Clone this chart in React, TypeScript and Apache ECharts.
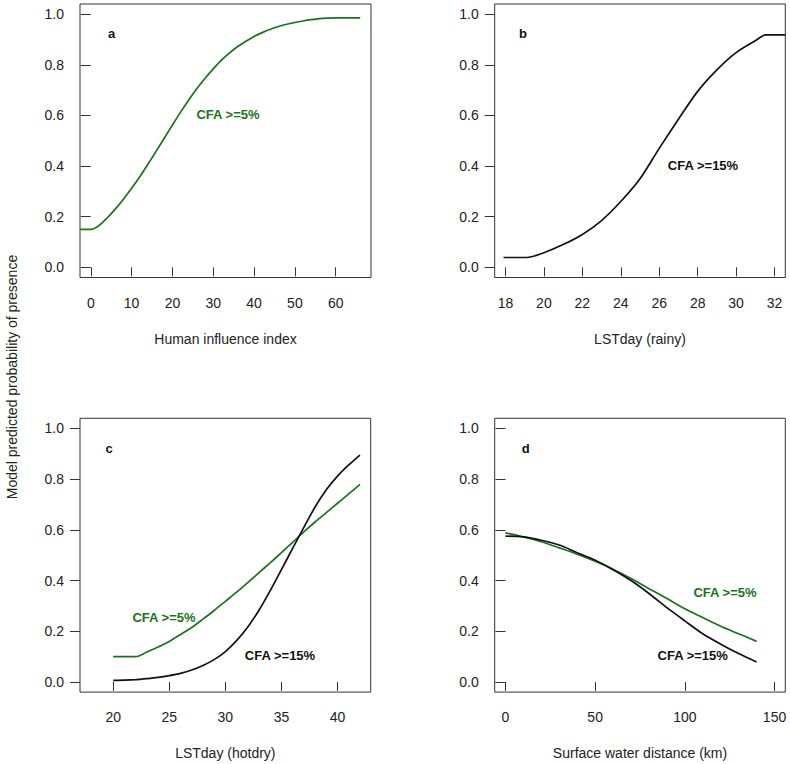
import React, { useEffect, useRef } from "react";
import * as echarts from "echarts";

// ---- data ----
const aX = [-2.6, 0, 2, 4, 6, 8, 10, 12, 14, 16, 18, 20, 22, 24, 26, 28, 30, 32, 34, 36, 38, 40, 42, 44, 46, 48, 50, 52, 54, 56, 58, 60, 66];
const aGreen = [0.15, 0.15, 0.165, 0.195, 0.23, 0.269, 0.312, 0.358, 0.407, 0.458, 0.51, 0.562, 0.613, 0.661, 0.706, 0.747, 0.784, 0.818, 0.847, 0.872, 0.893, 0.912, 0.927, 0.94, 0.951, 0.96, 0.967, 0.973, 0.978, 0.982, 0.984, 0.985, 0.985];

const bX = [17.9, 19.1, 20, 21, 22, 23, 24, 25, 26, 27, 28, 29, 30, 31, 31.55, 32.56];
const bBlack = [0.039, 0.039, 0.058, 0.09, 0.13, 0.185, 0.26, 0.35, 0.47, 0.585, 0.695, 0.78, 0.848, 0.895, 0.918, 0.918];

const cGreenX = [20, 22, 23, 24, 25, 26, 27, 28, 29, 30, 31, 32, 33, 34, 35, 36, 37, 38, 39, 40, 41, 42];
const cGreen = [0.1, 0.1, 0.118, 0.138, 0.16, 0.187, 0.215, 0.248, 0.282, 0.318, 0.354, 0.392, 0.431, 0.47, 0.51, 0.551, 0.592, 0.631, 0.668, 0.705, 0.742, 0.779];
const cBlackX = [20, 21, 22, 23, 24, 25, 26, 27, 28, 29, 30, 31, 32, 33, 34, 35, 36, 37, 38, 39, 40, 41, 42];
const cBlack = [0.006, 0.007, 0.009, 0.013, 0.018, 0.025, 0.034, 0.047, 0.065, 0.088, 0.12, 0.163, 0.217, 0.283, 0.36, 0.443, 0.527, 0.61, 0.69, 0.758, 0.812, 0.856, 0.895];

const dX = [0, 10, 20, 30, 40, 50, 60, 70, 80, 90, 100, 110, 120, 130, 140];
const dGreen = [0.588, 0.572, 0.553, 0.529, 0.504, 0.476, 0.445, 0.408, 0.368, 0.329, 0.289, 0.254, 0.22, 0.19, 0.16];
const dBlack = [0.575, 0.572, 0.559, 0.54, 0.51, 0.48, 0.443, 0.4, 0.349, 0.293, 0.241, 0.19, 0.149, 0.112, 0.079];

const yTicks = [0, 0.2, 0.4, 0.6, 0.8, 1.0];
const aTicks = [0, 10, 20, 30, 40, 50, 60];
const bTicks = [18, 20, 22, 24, 26, 28, 30, 32];
const cTicks = [20, 25, 30, 35, 40];
const dTicks = [0, 50, 100, 150];

const xNames = ["Human influence index", "LSTday (rainy)", "LSTday (hotdry)", "Surface water distance (km)"];
const xRanges: [number, number][] = [[-2.64, 68.64], [17.44, 32.56], [17.04, 42.96], [-6, 156]];
const yTitle = "Model predicted probability of presence";
const lblGreen = "CFA >=5%";
const lblBlack = "CFA >=15%";

const GREEN = "#1b721b";
const BLACK = "#111111";
const FONT = "'Liberation Sans', Arial, Helvetica, sans-serif";

const zip = (xs: number[], ys: number[]) => xs.map((x, i) => [x, ys[i]]);

export default function App() {
  const ref = useRef<HTMLDivElement>(null);
  useEffect(() => {
    const chart = echarts.init(ref.current!, undefined, { renderer: "svg" });
    const grids = [
      { left: 80, top: 4, width: 291, height: 273.5 },
      { left: 494.7, top: 4, width: 290.6, height: 273.5 },
      { left: 80, top: 418.3, width: 290.7, height: 273.8 },
      { left: 494.7, top: 418.3, width: 290.6, height: 273.8 },
    ].map((g) => ({ ...g, show: true, borderColor: "#333", borderWidth: 1, backgroundColor: "transparent" }));
    const xTickSets = [aTicks, bTicks, cTicks, dTicks];
    const xAxis = xTickSets.map((ticks, i) => ({
      type: "value",
      gridIndex: i,
      min: xRanges[i][0],
      max: xRanges[i][1],
      name: xNames[i],
      nameLocation: "middle",
      nameGap: 54,
      nameTextStyle: { fontFamily: FONT, fontSize: 14, color: "#222" },
      axisLine: { show: false },
      axisTick: { show: true, length: 9, customValues: ticks, lineStyle: { color: "#333" } },
      axisLabel: { show: true, margin: 18, customValues: ticks, fontFamily: FONT, fontSize: 14, color: "#222", formatter: (v: number) => String(v) },
      splitLine: { show: false },
    }));
    const yAxis = [0, 1, 2, 3].map((i) => ({
      type: "value",
      gridIndex: i,
      min: -0.04,
      max: 1.04,
      axisLine: { show: false },
      axisTick: { show: true, length: 10, customValues: yTicks, lineStyle: { color: "#333" } },
      axisLabel: { show: true, margin: 16, customValues: yTicks, fontFamily: FONT, fontSize: 14, color: "#222", formatter: (v: number) => v.toFixed(1) },
      splitLine: { show: false },
    }));
    const line = (idx: number, data: number[][], color: string) => ({
      type: "line",
      xAxisIndex: idx,
      yAxisIndex: idx,
      data,
      showSymbol: false,
      smooth: 0.3,
      lineStyle: { color, width: 1.7 },
      clip: true,
    });
    const txt = (x: number, y: number, text: string, color: string, size = 13) => ({
      type: "text",
      x,
      y,
      style: { text, fill: color, font: `bold ${size}px ${FONT}`, textAlign: "center", textVerticalAlign: "middle" },
    });
    chart.setOption({
      animation: false,
      grid: grids,
      xAxis,
      yAxis,
      series: [
        line(0, zip(aX, aGreen), GREEN),
        line(1, zip(bX, bBlack), BLACK),
        line(2, zip(cGreenX, cGreen), GREEN),
        line(2, zip(cBlackX, cBlack), BLACK),
        line(3, zip(dX, dGreen), GREEN),
        line(3, zip(dX, dBlack), BLACK),
      ],
      graphic: [
        txt(111.7, 33, "a", BLACK, 13),
        txt(523, 33, "b", BLACK, 13),
        txt(109, 448, "c", BLACK, 13),
        txt(525.7, 448, "d", BLACK, 13),
        txt(228, 114, lblGreen, GREEN),
        txt(703, 165, lblBlack, BLACK),
        txt(164, 617, lblGreen, GREEN),
        txt(280, 655, lblBlack, BLACK),
        txt(725, 592, lblGreen, GREEN),
        txt(692.7, 655, lblBlack, BLACK),
        {
          type: "text",
          x: 12,
          y: 377,
          rotation: Math.PI / 2,
          style: { text: yTitle, fill: "#222", font: `14px ${FONT}`, textAlign: "center", textVerticalAlign: "middle" },
        },
      ],
    });
    return () => chart.dispose();
  }, []);
  return <div ref={ref} style={{ position: "absolute", left: 0, top: 0, width: 790, height: 764 }} />;
}
